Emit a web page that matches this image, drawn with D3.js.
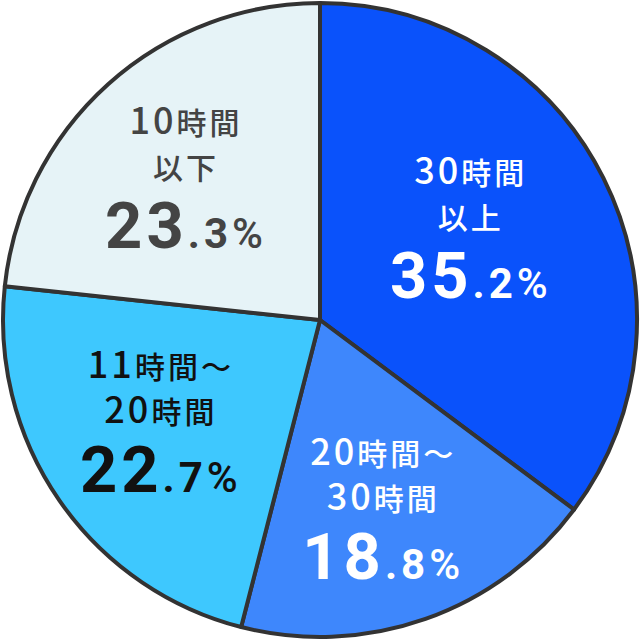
<!DOCTYPE html>
<html>
<head>
<meta charset="utf-8">
<script src="https://cdn.jsdelivr.net/npm/d3@7"></script>
<style>
  html, body { margin: 0; padding: 0; background: #fff; }
  svg { display: block; }
</style>
</head>
<body>
<svg id="chart" width="640" height="640"></svg>
<script>
// data, clockwise from 12 o'clock
const labels = [["30時間", "以上"], ["20時間～", "30時間"], ["11時間～", "20時間"], ["10時間", "以下"]];
const values = [35.2, 18.8, 22.7, 23.3];
const colors = ["#0a52fb", "#3e87fc", "#3ec8fe", "#e6f3f7"];
const textColors = ["#ffffff", "#ffffff", "#111111", "#444444"];
// small nudges so the text blocks sit where the original has them
const nudge = [[-19, -6], [0, 11], [-3, -5], [-7, 0]];

const svg = d3.select("#chart");
const cx = 320, cy = 320, r = 317;
const g = svg.append("g").attr("transform", `translate(${cx},${cy})`);

const pie = d3.pie().sort(null).value(d => d);
const arcs = pie(values);
const arc = d3.arc().innerRadius(0).outerRadius(r);
const labelArc = d3.arc().innerRadius(190).outerRadius(190);

g.selectAll("path.slice")
  .data(arcs)
  .join("path")
  .attr("class", "slice")
  .attr("d", arc)
  .attr("fill", (d, i) => colors[i])
  .attr("stroke", "#333")
  .attr("stroke-width", 4)
  .attr("stroke-linejoin", "round");

// split "20時間～" into digit / non-digit runs so digits can be taller
function runs(s) {
  return s.match(/[0-9]+|[^0-9]+/g);
}

arcs.forEach((d, i) => {
  const [x0, y0] = labelArc.centroid(d);
  const x = x0 + nudge[i][0], y = y0 + nudge[i][1];
  const block = g.append("g").attr("transform", `translate(${x},${y})`).attr("fill", textColors[i]);

  [-45, 0].forEach((dy, k) => {
    const t = block.append("text")
      .attr("y", dy)
      .attr("text-anchor", "middle")
      .attr("font-family", "'Noto Sans CJK JP', 'Noto Sans', sans-serif")
      .attr("font-size", 30)
      .attr("font-weight", 500)
      .attr("letter-spacing", 3);
    runs(labels[i][k]).forEach(p => {
      t.append("tspan")
        .attr("font-size", /[0-9]/.test(p) ? 36 : 30)
        .text(p);
    });
  });

  const parts = String(values[i].toFixed(1)).split(".");
  const num = block.append("text")
    .attr("y", 69)
    .attr("text-anchor", "middle")
    .attr("font-family", "Roboto, 'Liberation Sans', sans-serif")
    .attr("font-weight", 700)
    .attr("letter-spacing", 4);
  num.append("tspan").attr("font-size", 65).text(parts[0]);
  num.append("tspan").attr("font-size", 42).text("." + parts[1]);
  num.append("tspan").attr("font-size", 42).attr("font-weight", 500).text("%");
});
</script>
</body>
</html>
